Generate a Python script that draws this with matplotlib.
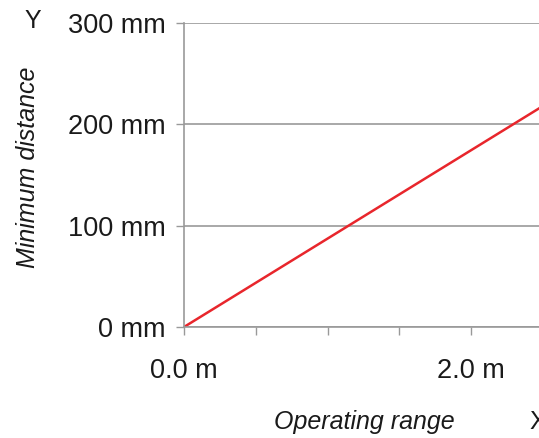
import matplotlib.pyplot as plt

# data
range_m = [0.0, 2.5]
min_dist_mm = [0.0, 218.0]
x_ticks = [0.0, 0.5, 1.0, 1.5, 2.0]
x_labels = ['0.0 m', '', '', '', '2.0 m']
y_ticks = [0, 100, 200, 300]
y_labels = ['0 mm', '100 mm', '200 mm', '300 mm']

plt.rcParams['font.family'] = ['Liberation Sans', 'DejaVu Sans']

fig = plt.figure(figsize=(5.39, 4.38), dpi=100)
ax = fig.add_axes([184 / 539, 111 / 438, 1 - 184 / 539, (415 - 111) / 438])

ax.plot(range_m, min_dist_mm, color='#e8262c', linewidth=1.8, solid_capstyle='butt', clip_on=True)

ax.set_xlim(0, (539 - 184) / 143.5)
ax.set_ylim(0, 300)

ax.set_xticks(x_ticks)
ax.set_xticklabels(x_labels)
ax.set_yticks(y_ticks)
ax.set_yticklabels(y_labels)

grey = '#999999'
ax.grid(axis='y', color=grey, linewidth=1.2)
ax.set_axisbelow(True)
for side in ['top', 'right']:
    ax.spines[side].set_visible(False)
for side in ['left', 'bottom']:
    ax.spines[side].set_color(grey)
    ax.spines[side].set_linewidth(1.2)

ax.tick_params(axis='both', colors=grey, labelcolor='#1a1a1a', labelsize=19.5,
               length=6, width=1.0)
ax.tick_params(axis='y', pad=7)
ax.tick_params(axis='x', pad=16)

fig.text(28 / 539, 1 - 167 / 438, 'Minimum distance', rotation=90, style='italic',
         fontsize=18, ha='center', va='center', color='#1a1a1a')
fig.text(364 / 539, 1 - 422 / 438, 'Operating range', style='italic',
         fontsize=18, ha='center', va='center', color='#1a1a1a')
fig.text(33 / 539, 1 - 21 / 438, 'Y', fontsize=18, ha='center', va='center', color='#1a1a1a')
fig.text(529 / 539, 1 - 422 / 438, 'X', fontsize=18, ha='left', va='center', color='#1a1a1a')

fig.savefig('out.png', dpi=100)
